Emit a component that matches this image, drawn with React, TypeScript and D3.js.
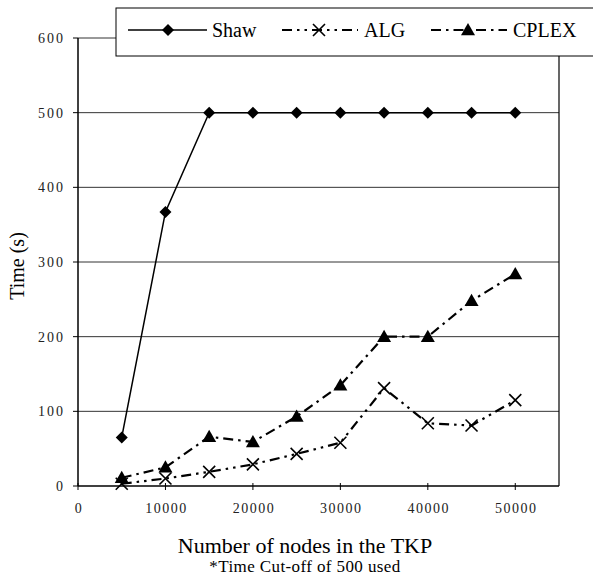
import React from "react";
import * as d3 from "d3";

const xValues = [5000, 10000, 15000, 20000, 25000, 30000, 35000, 40000, 45000, 50000];
const shaw = [65, 367, 500, 500, 500, 500, 500, 500, 500, 500];
const alg = [3, 10, 19, 29, 43, 58, 131, 84, 81, 115];
const cplex = [11, 25, 66, 59, 93, 135, 200, 200, 248, 284];
const yTicks = [0, 100, 200, 300, 400, 500, 600];
const xTicks = [0, 10000, 20000, 30000, 40000, 50000];

const FONT = "'Liberation Serif', 'Times New Roman', serif";

function Diamond({ x, y, r = 6 }: { x: number; y: number; r?: number }) {
  return <path d={`M${x},${y - r}L${x + r},${y}L${x},${y + r}L${x - r},${y}Z`} fill="#000" />;
}
function Cross({ x, y, r = 6 }: { x: number; y: number; r?: number }) {
  return (
    <path d={`M${x - r},${y - r}L${x + r},${y + r}M${x - r},${y + r}L${x + r},${y - r}`} stroke="#000" strokeWidth={1.6} fill="none" />
  );
}
function Tri({ x, y, r = 7 }: { x: number; y: number; r?: number }) {
  return <path d={`M${x},${y - r}L${x + r},${y + r * 0.75}L${x - r},${y + r * 0.75}Z`} fill="#000" />;
}

export default function App() {
  const W = 593, H = 587;
  const x = d3.scaleLinear().domain([0, 55000]).range([78, 559]);
  const y = d3.scaleLinear().domain([0, 600]).range([486, 38]);
  const line = d3.line<number>().x((_, i) => x(xValues[i])).y((d) => y(d));
  const algDash = "10,5,2.5,5,2.5,5";
  const cplexDash = "10,5,2.5,5";
  return (
    <svg width={W} height={H} style={{ position: "absolute", left: 0, top: 0, background: "#fff", fontFamily: FONT }}>
      {/* gridlines */}
      {yTicks.filter((t) => t > 0).map((t) => (
        <line key={t} x1={x(0)} x2={x(55000)} y1={y(t)} y2={y(t)} stroke="#333" strokeWidth={1} />
      ))}
      {/* right border */}
      <line x1={x(55000)} x2={x(55000)} y1={y(600)} y2={y(0)} stroke="#000" strokeWidth={1.2} />
      {/* axes */}
      <line x1={x(0)} x2={x(0)} y1={y(600)} y2={y(0)} stroke="#000" strokeWidth={1.5} />
      <line x1={x(0)} x2={x(55000)} y1={y(0)} y2={y(0)} stroke="#000" strokeWidth={1.5} />
      {yTicks.map((t) => (
        <g key={t}>
          <line x1={x(0) - 5} x2={x(0)} y1={y(t)} y2={y(t)} stroke="#000" />
          <text x={65} y={y(t) + 5} textAnchor="end" fontSize={14} letterSpacing={2} fill="#222">{t}</text>
        </g>
      ))}
      {xTicks.map((t) => (
        <g key={t}>
          <line x1={x(t)} x2={x(t)} y1={y(0) - 3} y2={y(0) + 4} stroke="#000" />
          <text x={x(t) + 1} y={y(0) + 27} textAnchor="middle" fontSize={14} letterSpacing={1.5} fill="#222">{t}</text>
        </g>
      ))}
      {/* series */}
      <path d={line(shaw) || ""} fill="none" stroke="#000" strokeWidth={1.5} />
      <path d={line(cplex) || ""} fill="none" stroke="#000" strokeWidth={2.2} strokeDasharray={cplexDash} />
      <path d={line(alg) || ""} fill="none" stroke="#000" strokeWidth={2.2} strokeDasharray={algDash} />
      {shaw.map((v, i) => <Diamond key={i} x={x(xValues[i])} y={y(v)} />)}
      {alg.map((v, i) => <Cross key={i} x={x(xValues[i])} y={y(v)} />)}
      {cplex.map((v, i) => <Tri key={i} x={x(xValues[i])} y={y(v)} />)}
      {/* legend */}
      <rect x={116} y={8} width={490} height={48} fill="#fff" stroke="#000" strokeWidth={1} />
      <line x1={128} x2={207} y1={30} y2={30} stroke="#000" strokeWidth={1.5} />
      <Diamond x={168} y={30} />
      <text x={212} y={37} fontSize={20}>Shaw</text>
      <line x1={282} x2={358} y1={30} y2={30} stroke="#000" strokeWidth={2.2} strokeDasharray={algDash} />
      <Cross x={319} y={30} />
      <text x={364} y={37} fontSize={20}>ALG</text>
      <line x1={431} x2={507} y1={30} y2={30} stroke="#000" strokeWidth={2.2} strokeDasharray={cplexDash} />
      <Tri x={468} y={30} />
      <text x={513} y={37} fontSize={20}>CPLEX</text>
      {/* axis titles */}
      <text transform={`translate(24,${266}) rotate(-90)`} textAnchor="middle" fontSize={20}>Time (s)</text>
      <text x={305} y={553} textAnchor="middle" fontSize={22}>Number of nodes in the TKP</text>
      <text x={305} y={572} textAnchor="middle" fontSize={17} letterSpacing={0.4}>*Time Cut-off of 500 used</text>
    </svg>
  );
}
